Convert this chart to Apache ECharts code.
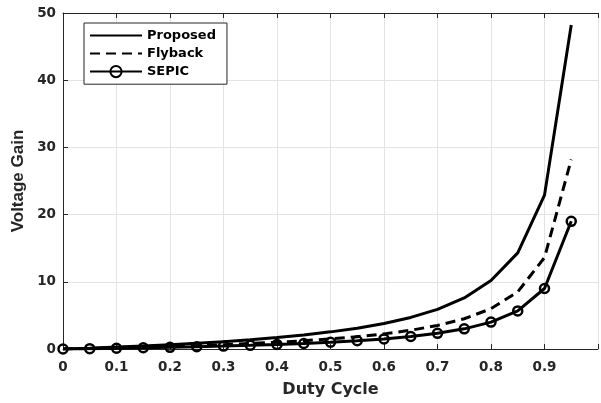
<!DOCTYPE html>
<html>
<head>
<meta charset="utf-8">
<script src="https://cdn.jsdelivr.net/npm/echarts@6/dist/echarts.min.js"></script>
<style>
  html, body { margin: 0; padding: 0; background: #fff; }
  #main { width: 601px; height: 403px; }
</style>
</head>
<body>
<div id="main"></div>
<script>
// duty cycle samples
var duty = [0, 0.05, 0.1, 0.15, 0.2, 0.25, 0.3, 0.35, 0.4, 0.45, 0.5, 0.55, 0.6, 0.65, 0.7, 0.75, 0.8, 0.85, 0.9, 0.95];
// voltage gain
var proposed = [0, 0.13, 0.28, 0.45, 0.64, 0.85, 1.09, 1.37, 1.7, 2.08, 2.55, 3.1, 3.8, 4.7, 5.9, 7.6, 10.2, 14.3, 22.9, 48.2];
var flyback = [0, 0.08, 0.17, 0.26, 0.38, 0.5, 0.64, 0.81, 1.0, 1.23, 1.5, 1.83, 2.25, 2.79, 3.5, 4.5, 6.0, 8.5, 13.6, 28.2];
var sepic = [0, 0.05, 0.11, 0.18, 0.25, 0.33, 0.43, 0.54, 0.67, 0.82, 1.0, 1.22, 1.5, 1.86, 2.33, 3.0, 4.0, 5.67, 9.0, 19.0];
var seriesNames = ['Proposed', 'Flyback', 'SEPIC'];

var WIDE = "'DejaVu Sans', sans-serif";
var NARROW = "'Liberation Sans', Arial, sans-serif";
var INK = '#262626';

function pairs(ys) {
    return duty.map(function (d, i) { return [d, ys[i]]; });
}

var chart = echarts.init(document.getElementById('main'));

var option = {
    animation: false,
    backgroundColor: '#fff',
    textStyle: {fontFamily: WIDE},
    grid: {left: 63, right: -7, top: 13, bottom: 50},
    legend: {
        orient: 'vertical',
        left: 84,
        top: 23,
        data: seriesNames,
        itemWidth: 52,
        itemHeight: 14,
        itemGap: 5,
        padding: [6, 11, 6, 5],
        borderColor: INK,
        borderWidth: 1,
        backgroundColor: '#fff',
        textStyle: {color: '#000', fontWeight: 'bold', fontSize: 13, fontFamily: WIDE}
    },
    xAxis: [
        {
            type: 'value',
            min: 0,
            max: 1,
            interval: 0.1,
            name: 'Duty Cycle',
            nameLocation: 'middle',
            nameGap: 33,
            nameTextStyle: {color: INK, fontWeight: 'bold', fontSize: 16, fontFamily: WIDE},
            axisLine: {show: true, lineStyle: {color: INK, width: 1}},
            axisTick: {show: true, inside: true, length: 5, lineStyle: {color: INK}},
            axisLabel: {
                color: INK, fontWeight: 'bold', fontSize: 13.5, margin: 11, fontFamily: WIDE,
                formatter: function (v) { return v >= 0.99 ? '' : String(Math.round(v * 10) / 10); }
            },
            splitLine: {show: true, lineStyle: {color: '#e3e3e3', width: 1}}
        },
        {
            type: 'value',
            position: 'top',
            min: 0,
            max: 1,
            interval: 0.1,
            axisLine: {show: true, lineStyle: {color: INK, width: 1}},
            axisTick: {show: true, inside: true, length: 5, lineStyle: {color: INK}},
            axisLabel: {show: false},
            splitLine: {show: false}
        }
    ],
    yAxis: {
        type: 'value',
        min: 0,
        max: 50,
        interval: 10,
        name: 'Voltage Gain',
        nameLocation: 'middle',
        nameGap: 28,
        nameTextStyle: {color: INK, fontWeight: 'bold', fontSize: 17, fontFamily: NARROW},
        axisLine: {show: true, lineStyle: {color: INK, width: 1}},
        axisTick: {show: true, inside: true, length: 5, lineStyle: {color: INK}},
        axisLabel: {color: INK, fontWeight: 'bold', fontSize: 13.5, margin: 7, fontFamily: WIDE},
        splitLine: {show: true, lineStyle: {color: '#e3e3e3', width: 1}}
    },
    series: [
        {
            name: 'Proposed',
            type: 'line',
            symbol: 'none',
            data: pairs(proposed),
            itemStyle: {color: 'rgba(0,0,0,0)', borderWidth: 0},
            lineStyle: {color: '#000', width: 3}
        },
        {
            name: 'Flyback',
            type: 'line',
            symbol: 'none',
            data: pairs(flyback),
            itemStyle: {color: 'rgba(0,0,0,0)', borderWidth: 0},
            lineStyle: {color: '#000', width: 3, type: [10, 6]}
        },
        {
            name: 'SEPIC',
            type: 'line',
            symbol: 'circle',
            symbolSize: 9,
            data: pairs(sepic),
            itemStyle: {color: 'rgba(0,0,0,0)', borderColor: '#000', borderWidth: 2.5},
            lineStyle: {color: '#000', width: 3}
        }
    ]
};

chart.setOption(option);
</script>
</body>
</html>
